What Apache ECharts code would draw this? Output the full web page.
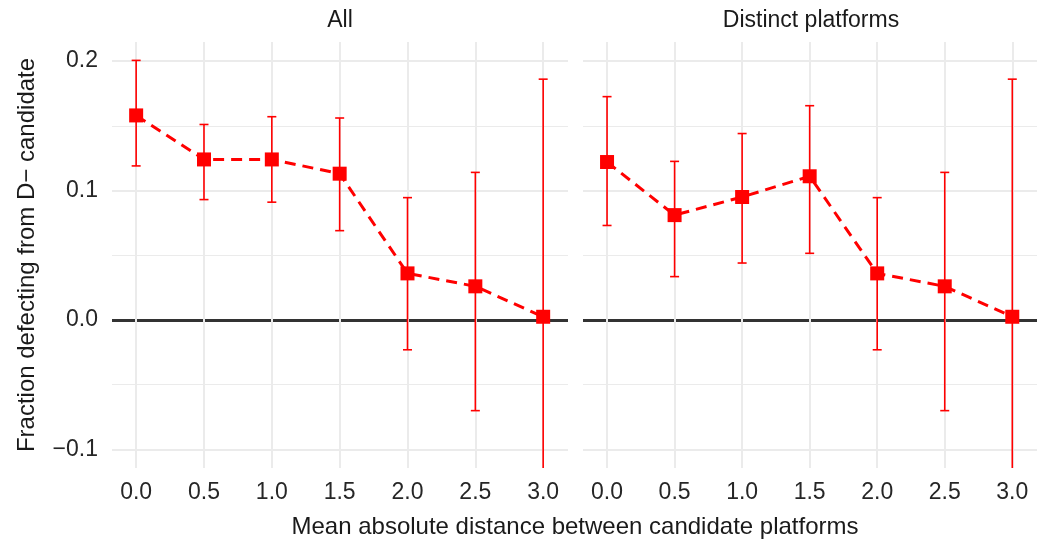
<!DOCTYPE html>
<html>
<head>
<meta charset="utf-8">
<script src="https://cdn.jsdelivr.net/npm/echarts@6/dist/echarts.min.js"></script>
<style>
html,body{margin:0;padding:0;background:#fff;}
#chart{width:1037px;height:544px;}
</style>
</head>
<body>
<div id="chart"></div>
<script>
// ---- data ----
const panelTitles = ['All', 'Distinct platforms'];
const xValues = [0, 0.5, 1, 1.5, 2, 2.5, 3];
const xTickLabels = ['0.0', '0.5', '1.0', '1.5', '2.0', '2.5', '3.0'];
const yTickValues = [-0.1, 0, 0.1, 0.2];
const yTickLabels = ['\u22120.1', '0.0', '0.1', '0.2'];
const yMinorValues = [-0.05, 0.05, 0.15];
const allMean  = [0.158, 0.124, 0.124, 0.113, 0.036, 0.026, 0.0025];
const allLower = [0.119, 0.093, 0.091, 0.069, -0.023, -0.070, -0.180];
const allUpper = [0.2005, 0.151, 0.157, 0.156, 0.0945, 0.114, 0.186];
const distinctMean  = [0.122, 0.081, 0.095, 0.111, 0.036, 0.026, 0.0025];
const distinctLower = [0.073, 0.0335, 0.044, 0.0515, -0.023, -0.070, -0.180];
const distinctUpper = [0.1725, 0.1225, 0.144, 0.1655, 0.0945, 0.114, 0.186];
const xTitle = 'Mean absolute distance between candidate platforms';
const yTitle = 'Fraction defecting from D\u2212 candidate';

// ---- chart ----
const chart = echarts.init(document.getElementById('chart'));
const FONT = '"Liberation Sans", Arial, Helvetica, sans-serif';
const RED = '#FF0000';
const X_MIN = -0.178, X_MAX = 3.183;
const Y_MIN = -0.1143, Y_MAX = 0.2147;

const grids = [
  {left: 112, top: 42, width: 456, height: 426},
  {left: 583, top: 42, width: 456, height: 426}
];

const xAxes = grids.map((g, i) => ({
  gridIndex: i, type: 'value', min: X_MIN, max: X_MAX,
  axisLine: {show: false},
  axisTick: {show: false, customValues: xValues},
  axisLabel: {
    customValues: xValues,
    formatter: v => xTickLabels[xValues.indexOf(v)],
    fontSize: 23, color: '#262626', fontFamily: FONT, margin: 13
  },
  splitLine: {show: true, lineStyle: {color: '#EBEBEB', width: 2}}
}));

const yAxes = [];
grids.forEach((g, i) => {
  yAxes.push({
    gridIndex: i, type: 'value', min: Y_MIN, max: Y_MAX, position: 'left',
    axisLine: {show: false},
    axisTick: {show: false, customValues: yMinorValues},
    axisLabel: {show: false},
    splitLine: {show: true, lineStyle: {color: '#EBEBEB', width: 1}}
  });
  yAxes.push({
    gridIndex: i, type: 'value', min: Y_MIN, max: Y_MAX, position: 'left',
    axisLine: {show: false},
    axisTick: {show: false, customValues: yTickValues},
    axisLabel: {
      show: i === 0, customValues: yTickValues,
      formatter: v => yTickLabels[yTickValues.indexOf(v)],
      fontSize: 23, color: '#262626', fontFamily: FONT, margin: 14
    },
    splitLine: {show: true, lineStyle: {color: '#EBEBEB', width: 2}}
  });
  yAxes.push({
    gridIndex: i, type: 'value', min: Y_MIN, max: Y_MAX, position: 'left',
    axisLine: {show: false},
    axisTick: {show: false, customValues: [0]},
    axisLabel: {show: false},
    splitLine: {show: true, lineStyle: {color: '#333333', width: 3.2}}
  });
});

function errorBarItem(params, api) {
  const x = api.value(0);
  const lo = api.coord([x, api.value(1)]);
  const hi = api.coord([x, api.value(2)]);
  const half = 4.5;
  const style = {stroke: RED, lineWidth: 1.6, fill: null};
  return {
    type: 'group',
    children: [
      {type: 'line', shape: {x1: lo[0], y1: lo[1], x2: hi[0], y2: hi[1]}, style: style},
      {type: 'line', shape: {x1: lo[0] - half, y1: lo[1], x2: lo[0] + half, y2: lo[1]}, style: style},
      {type: 'line', shape: {x1: hi[0] - half, y1: hi[1], x2: hi[0] + half, y2: hi[1]}, style: style}
    ]
  };
}

const panels = [
  {mean: allMean, lower: allLower, upper: allUpper},
  {mean: distinctMean, lower: distinctLower, upper: distinctUpper}
];

const series = [];
panels.forEach((p, i) => {
  series.push({
    type: 'custom', xAxisIndex: i, yAxisIndex: i * 3 + 1, clip: true,
    renderItem: errorBarItem, silent: true, z: 3,
    data: xValues.map((x, k) => [x, p.lower[k], p.upper[k]])
  });
  series.push({
    type: 'line', xAxisIndex: i, yAxisIndex: i * 3 + 1,
    data: xValues.map((x, k) => [x, p.mean[k]]),
    symbol: 'rect', symbolSize: 14, showSymbol: true,
    itemStyle: {color: RED, opacity: 1},
    lineStyle: {color: RED, width: 3, type: [11, 7]},
    silent: true, animation: false, z: 4
  });
});

chart.setOption({
  animation: false,
  backgroundColor: '#ffffff',
  grid: grids,
  xAxis: xAxes,
  yAxis: yAxes,
  series: series,
  graphic: [
    {type: 'text', x: grids[0].left + grids[0].width / 2, y: 21,
     style: {text: panelTitles[0], font: '23px ' + FONT, fill: '#1a1a1a', textAlign: 'center', textVerticalAlign: 'middle'}},
    {type: 'text', x: 811, y: 21,
     style: {text: panelTitles[1], font: '23px ' + FONT, fill: '#1a1a1a', textAlign: 'center', textVerticalAlign: 'middle'}},
    {type: 'text', x: 575, y: 527,
     style: {text: xTitle, font: '24px ' + FONT, fill: '#1a1a1a', textAlign: 'center', textVerticalAlign: 'middle'}},
    {type: 'text', x: 27, y: 255, rotation: Math.PI / 2,
     style: {text: yTitle, font: '24px ' + FONT, fill: '#1a1a1a', textAlign: 'center', textVerticalAlign: 'middle'}}
  ]
});
</script>
</body>
</html>
